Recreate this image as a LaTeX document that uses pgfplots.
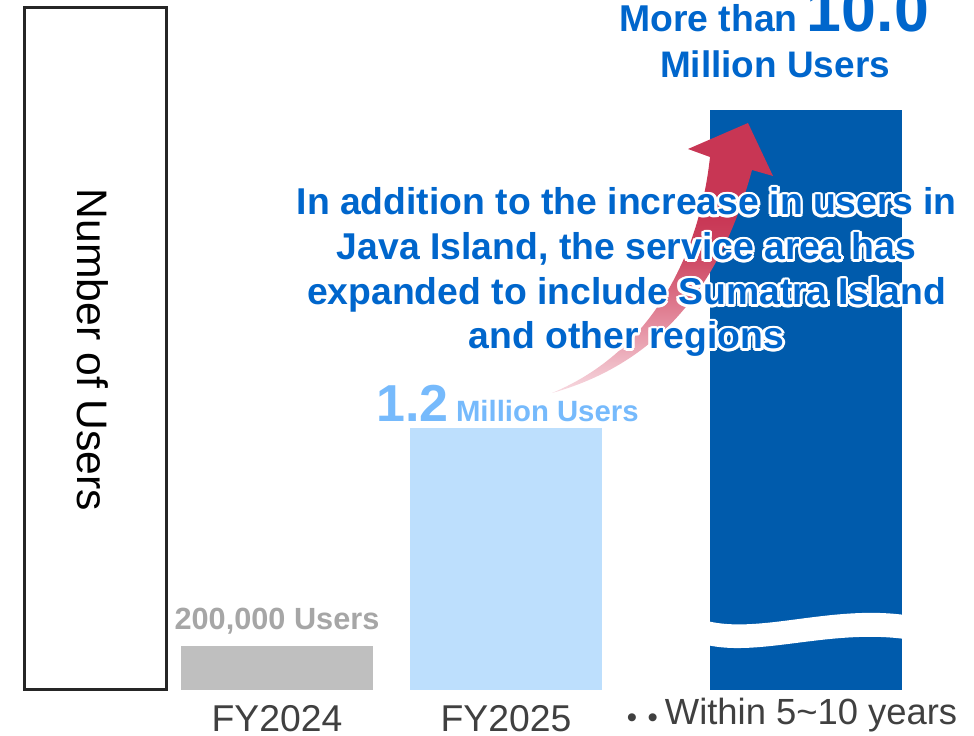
\documentclass[border=0pt]{standalone}
\usepackage{pgfplots}
\pgfplotsset{compat=1.18}
\usepackage{fontspec}
\setmainfont{Liberation Sans}

\definecolor{barGray}{RGB}{191,191,191}
\definecolor{barLight}{RGB}{189,223,253}
\definecolor{barDark}{RGB}{0,91,172}
\definecolor{textBlue}{RGB}{0,102,204}
\definecolor{textLight}{RGB}{118,186,252}
\definecolor{textGray}{RGB}{166,166,166}
\definecolor{labelGray}{RGB}{64,64,64}
\definecolor{boxGray}{RGB}{38,38,38}
\definecolor{apale}{RGB}{247,218,225}
\definecolor{amid}{RGB}{228,140,158}
\definecolor{adeep}{RGB}{206,72,99}
\definecolor{ared}{RGB}{200,54,84}

\pgfdeclareverticalshading{arrowshade}{100bp}{color(0bp)=(apale); color(25bp)=(apale); color(38bp)=(amid); color(50bp)=(adeep); color(58bp)=(ared); color(100bp)=(ared)}

\tikzset{mainline/.style={anchor=base, inner sep=0pt, font=\bfseries\fontsize{28}{33}\selectfont, text=textBlue}}
\newcommand{\halonode}[2]{%
  \foreach \ang in {0,22.5,...,337.5}{\node[mainline, text=white] at ([shift={(\ang:2pt)}]#1) {#2};}
  \foreach \ang in {0,45,...,315}{\node[mainline, text=white] at ([shift={(\ang:1pt)}]#1) {#2};}
  \node[mainline] at (#1) {#2};}

\begin{document}
\begin{tikzpicture}
\begin{axis}[
  scale only axis, width=730.5pt, height=551.25pt,
  xmin=-1.20961, xmax=3.04367, ymin=-0.206422, ymax=3.165138,
  axis line style={draw=none}, tick style={draw=none}, major tick length=0pt,
  ytick=\empty,
  xtick={0,1,2.2489},
  xticklabels={FY2024, FY2025, {\raisebox{5.25pt}{\raisebox{-2.25pt}{\fontsize{22}{24}\selectfont •\hspace{8pt}•}\hspace{5.2pt}{\fontsize{27.3}{32}\selectfont Within 5\textasciitilde10 years}}}},
  xticklabel style={anchor=base, yshift=2.25pt, inner sep=0pt, font=\fontsize{28}{34}\selectfont, text=labelGray},
  ylabel={Number of Users},
  ylabel style={at={(axis description cs:0.0955,0.5238)}, anchor=center, rotate=180, inner sep=0pt, font=\fontsize{32}{38}\selectfont, text=black},
]
% values in million users; the third bar is drawn on a broken axis (real value 10.0)
\addplot[ybar, bar width=0.8384, bar shift=0pt, fill=barGray, draw=none] coordinates {(0,0.2)};
\addplot[ybar, bar width=0.8384, bar shift=0pt, fill=barLight, draw=none] coordinates {(1,1.2)};
\addplot[ybar, bar width=0.8384, bar shift=0pt, fill=barDark, draw=none] coordinates {(2.31,2.661)};
\end{axis}

\begin{scope}[shift={(current axis.north west)}, x=0.75pt, y=0.75pt]
  % break wave in the tall bar
  \fill[white] (707,-621) .. controls (760,-634) and (830,-605) .. (905,-615) -- (905,-639) .. controls (830,-629) and (760,-657) .. (707,-645) -- cycle;
  % frame around the axis title
  \draw[line width=2.25pt, boxGray] (24,-7.5) rectangle (166.5,-689.3);
  % growth arrow
  \shade[shading=arrowshade] (552,-393) .. controls (655,-350) and (700,-250) .. (710,-157) -- (688,-149) -- (748,-123) -- (773,-176) -- (752,-170) .. controls (725,-270) and (670,-360) .. (552,-393) -- cycle;
  % value labels
  \node[anchor=base west, inner sep=0pt, text=textBlue, font=\bfseries] at (619,-32) {{\fontsize{28}{30}\selectfont More than}\hspace{7pt}{\fontsize{47}{50}\selectfont 10.0}};
  \node[anchor=base, inner sep=0pt, text=textBlue, font=\bfseries\fontsize{27.7}{30}\selectfont] at (775,-78) {Million Users};
  \node[anchor=base west, inner sep=0pt, text=textLight, font=\bfseries] at (376,-422) {{\fontsize{39}{42}\selectfont 1.2}\hspace{5.6pt}{\fontsize{22}{24}\selectfont Million Users}};
  \node[anchor=base, inner sep=0pt, text=textGray, font=\bfseries\fontsize{23}{26}\selectfont] at (277,-629) {200,000\hspace{6.5pt}Users};
  % annotation
  \halonode{626.5,-215}{In addition to the increase in users in}
  \halonode{626.5,-260}{Java Island, the service area has}
  \halonode{626.5,-305}{expanded to include Sumatra Island}
  \halonode{626.5,-349}{and other regions}
\end{scope}

\pgfresetboundingbox
\path[use as bounding box] (current axis.south west) rectangle (current axis.north east);
\end{tikzpicture}
\end{document}
